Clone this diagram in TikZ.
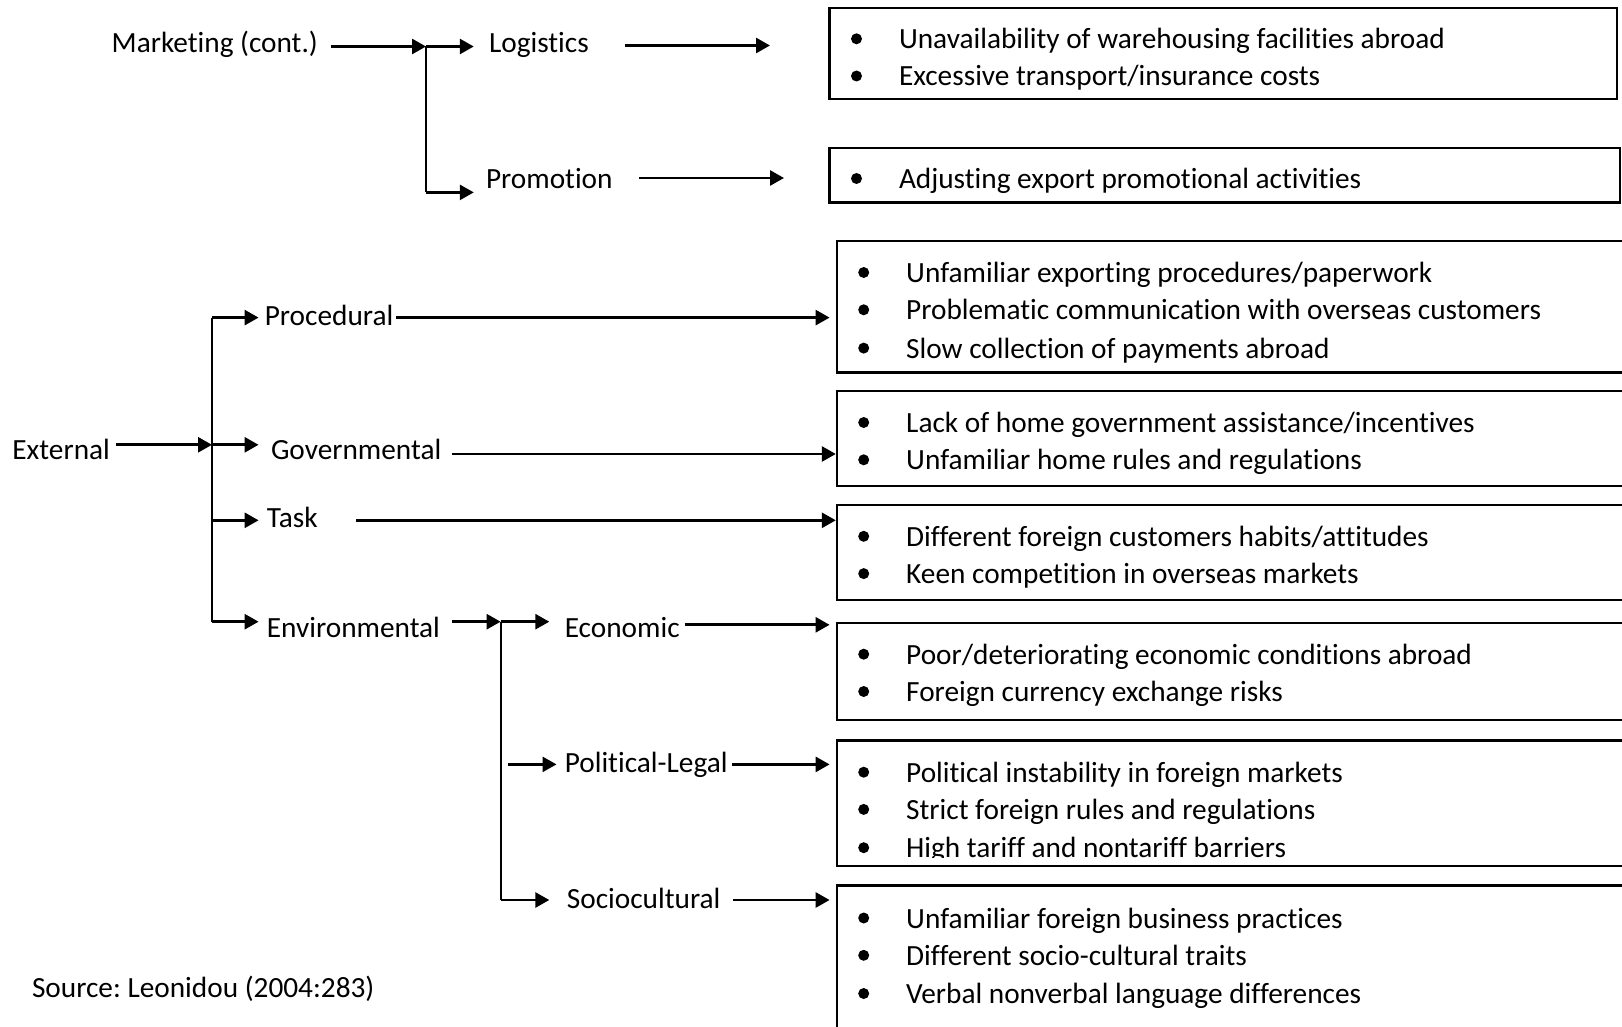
\documentclass[tikz,border=0pt]{standalone}
\usepackage{fontspec}
\setmainfont{Carlito}[Ligatures={NoCommon}]
\usetikzlibrary{arrows.meta}
\frenchspacing
\begin{document}
\begin{tikzpicture}[x=1pt,y=-1pt,
  every node/.style={inner sep=0pt, outer sep=0pt},
  lbl/.style={anchor=base west, yshift=-2pt, font=\fontsize{29.3}{37}\selectfont},
  dot/.style={circle, fill=black, minimum size=11pt},
  frame/.style={draw, line width=2.4pt, anchor=north west},
  arr/.style={line width=2.7pt, -{Triangle[length=14pt, width=15pt]}},
  trunk/.style={line width=2pt},
]
% page area
\clip (0,0) rectangle (1622,1027);
\fill[white] (0,0) rectangle (1622,1027);

% one bulleted line: name, bullet x, row centre y, text
\newcommand\bitem[4]{%
  \node[dot] (#1d) at (#2,#3+0.5) {};
  \node[lbl] (#1) at (#2+42.5,#3+8.5) {#4};}

% ---------------- Marketing (cont.) ----------------
\node[lbl] (mk)   at (111.7,50.9) {Marketing (cont.)};
\node[lbl] (logi) at (489,50.9)   {Logistics};
\node[lbl] (prom) at (486,186.5)  {Promotion};

\coordinate (mkOut)  at (331,46.5);
\coordinate (j1)     at (426,46.5);
\coordinate (j1b)    at (426,192.4);
\coordinate (logIn)  at (473.8,46.5);
\coordinate (promIn) at (473.8,192.4);
\coordinate (logOut) at (625,45.5);
\coordinate (logEnd) at (770,45.5);
\coordinate (promOut) at (639,178);
\coordinate (promEnd) at (784,178);

\draw[arr] (mkOut) -- (j1);
\draw[trunk] (j1) -- (j1b);
\draw[arr] (j1) -- (logIn);
\draw[arr] (j1b) -- (promIn);
\draw[arr] (logOut) -- (logEnd);
\draw[arr] (promOut) -- (promEnd);

\node[frame, minimum width=787.4pt, minimum height=91pt] (bxL) at (829.6,8.3) {};
\node[frame, minimum width=790.4pt, minimum height=54.7pt] (bxPr) at (829.6,148) {};
\bitem{l1}{856.5}{38.3}{Unavailability of warehousing facilities abroad}
\bitem{l2}{856.5}{75.5}{Excessive transport/insurance costs}
\bitem{p1}{856.5}{178}{Adjusting export promotional activities}

% ---------------- External ----------------
\node[lbl] (ext)  at (12.4,457.5)  {External};
\node[lbl] (proc) at (264.8,323)   {Procedural};
\node[lbl] (gov)  at (271,457.5)   {Governmental};
\node[lbl] (task) at (266.9,525.7) {Task};
\node[lbl] (env)  at (266.9,635.3) {Environmental};
\node[lbl] (eco)  at (564.8,635.3) {Economic};
\node[lbl] (pol)  at (564.8,770.9) {Political-Legal};
\node[lbl] (soc)  at (566.9,906.4) {Sociocultural};

\coordinate (extOut) at (115.9,444.8);
\coordinate (j2)     at (212,444.8);
\coordinate (j2t)    at (212,317.6);
\coordinate (j2task) at (212,520.3);
\coordinate (j2b)    at (212,621.7);
\coordinate (procIn) at (258.6,317.6);
\coordinate (govIn)  at (258.6,444.8);
\coordinate (taskIn) at (258.6,520.3);
\coordinate (envIn)  at (258.6,621.7);

\draw[arr] (extOut) -- (j2);
\draw[trunk] (j2t) -- (j2b);
\draw[arr] (j2t) -- (procIn);
\draw[arr] (j2) -- (govIn);
\draw[arr] (j2task) -- (taskIn);
\draw[arr] (j2b) -- (envIn);

\coordinate (procOut) at (396,317.6);
\coordinate (procEnd) at (829.6,317.6);
\coordinate (govOut)  at (452,454);
\coordinate (govEnd)  at (835.8,454);
\coordinate (taskOut) at (355.8,520.3);
\coordinate (taskEnd) at (835.8,520.3);
\draw[arr] (procOut) -- (procEnd);
\draw[arr] (govOut) -- (govEnd);
\draw[arr] (taskOut) -- (taskEnd);

\coordinate (envOut) at (452,621.7);
\coordinate (j3)     at (500.6,621.7);
\coordinate (j3b)    at (500.6,900);
\coordinate (ecoIn)  at (549.3,621.7);
\coordinate (polSt)  at (507.9,764.4);
\coordinate (polIn)  at (556.5,764.4);
\coordinate (socIn)  at (549.3,900);
\draw[arr] (envOut) -- (j3);
\draw[trunk] (j3) -- (j3b);
\draw[arr] (j3) -- (ecoIn);
\draw[arr] (polSt) -- (polIn);
\draw[arr] (j3b) -- (socIn);

\coordinate (ecoOut) at (684.8,624.8);
\coordinate (ecoEnd) at (829.6,624.8);
\coordinate (polOut) at (732.4,764.4);
\coordinate (polEnd) at (829.6,764.4);
\coordinate (socOut) at (733.4,900);
\coordinate (socEnd) at (829.6,900);
\draw[arr] (ecoOut) -- (ecoEnd);
\draw[arr] (polOut) -- (polEnd);
\draw[arr] (socOut) -- (socEnd);

% barrier boxes
\node[frame, minimum width=820pt, minimum height=131.4pt] (bxP)  at (836.8,241) {};
\node[frame, minimum width=820pt, minimum height=95.2pt]  (bxG)  at (836.8,391) {};
\node[frame, minimum width=820pt, minimum height=95.2pt]  (bxT)  at (836.8,504.8) {};
\node[frame, minimum width=820pt, minimum height=97.3pt]  (bxE)  at (836.8,622.7) {};
\node[frame, minimum width=820pt, minimum height=125.2pt] (bxPL) at (836.8,740.6) {};
\node[frame, minimum width=820pt, minimum height=200pt]   (bxS)  at (836.8,885.4) {};

\bitem{pr1}{863.7}{272}{Unfamiliar exporting procedures/paperwork}
\bitem{pr2}{863.7}{309.3}{Problematic communication with overseas customers}
\bitem{pr3}{863.7}{347.6}{Slow collection of payments abroad}

\bitem{g1}{863.7}{422}{Lack of home government assistance/incentives}
\bitem{g2}{863.7}{459.3}{Unfamiliar home rules and regulations}

\bitem{t1}{863.7}{535.8}{Different foreign customers habits/attitudes}
\bitem{t2}{863.7}{573.1}{Keen competition in overseas markets}

\bitem{e1}{863.7}{653.7}{Poor/deteriorating economic conditions abroad}
\bitem{e2}{863.7}{691}{Foreign currency exchange risks}

\bitem{pl1}{863.7}{771.7}{Political instability in foreign markets}
\bitem{pl2}{863.7}{808.9}{Strict foreign rules and regulations}
\begin{scope}
  % the last line is cut off at its baseline
  \clip (850,828) rectangle (1622,857.7);
  \bitem{pl3}{863.7}{847.2}{High tariff and nontariff barriers}
\end{scope}

\bitem{s1}{863.7}{917.5}{Unfamiliar foreign business practices}
\bitem{s2}{863.7}{954.8}{Different socio-cultural traits}
\bitem{s3}{863.7}{993}{Verbal nonverbal language differences}

% source line
\node[lbl] (src) at (32,995.3) {Source: Leonidou (2004:283)};
\end{tikzpicture}
\end{document}
